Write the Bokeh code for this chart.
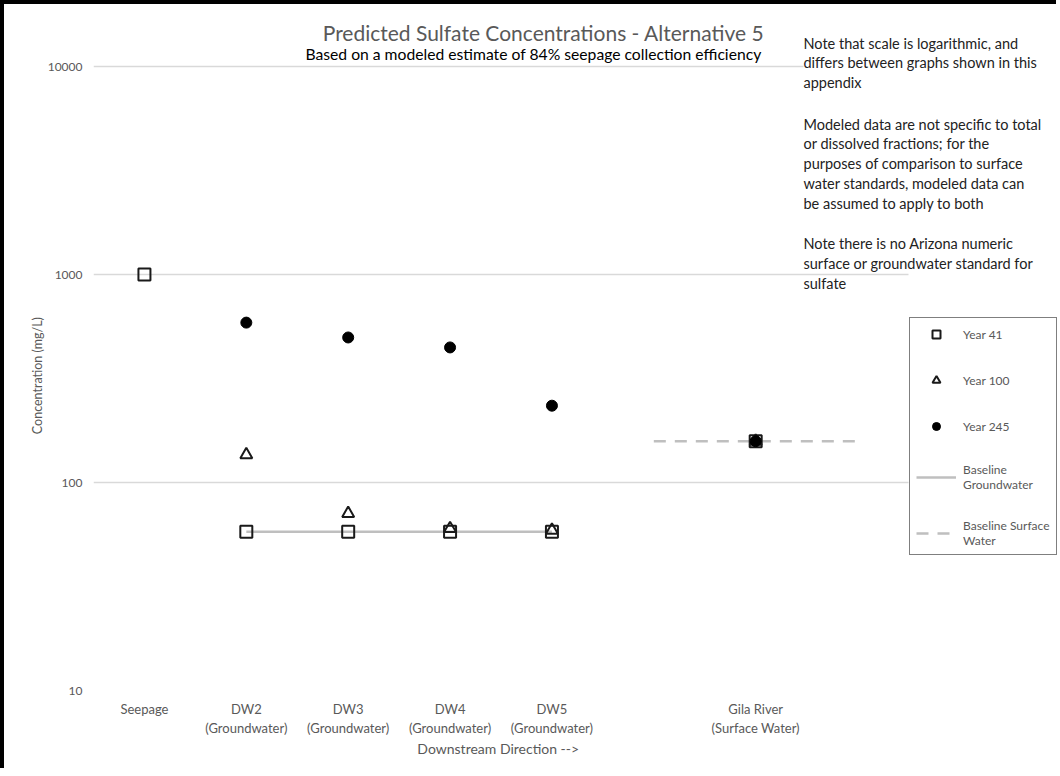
from bokeh.plotting import figure
from bokeh.models import Range1d, FixedTicker, Legend, LegendItem, Label, BoxAnnotation
from bokeh.embed import file_html
from bokeh.resources import INLINE

# ---------------- data ----------------
categories = ["Seepage", "DW2\n(Groundwater)", "DW3\n(Groundwater)", "DW4\n(Groundwater)",
              "DW5\n(Groundwater)", "", "Gila River\n(Surface Water)", ""]
year_41 = [1000, 58, 58, 58, 58, None, 158, None]
year_100 = [None, 136, 71, 60, 59, None, 158, None]
year_245 = [None, 587, 498, 446, 234, None, 158, None]
baseline_groundwater = [None, 58, 58, 58, 58, None, None, None]
baseline_surface_water = [None, None, None, None, None, 158, 158, 158]
y_ticks = [10, 100, 1000, 10000]
labelled_x = [0, 1, 2, 3, 4, 6]

title_text = "Predicted Sulfate Concentrations - Alternative 5"
subtitle_text = "Based on a modeled estimate of 84% seepage collection efficiency"
x_title = "Downstream Direction -->"
y_title = "Concentration (mg/L)"
note_1 = "Note that scale is logarithmic, and\ndiffers between graphs shown in this\nappendix"
note_2 = ("Modeled data are not specific to total\nor dissolved fractions; for the\n"
          "purposes of comparison to surface\nwater standards, modeled data can\n"
          "be assumed to apply to both\n\nNote there is no Arizona numeric\n"
          "surface or groundwater standard for\nsulfate")

FONT = "Lato"
GREY = "#595959"
EM = "\u2003"   # em space, used to shift the axis titles off the frame centre


def pts(vals):
    xs = [i for i, v in enumerate(vals) if v is not None]
    ys = [v for v in vals if v is not None]
    return xs, ys


# ---- layout geometry (page pixels) ----
BORDER = 4
W, H = 1056, 768                     # canvas size (border drawn outside)
PLOT_L, PLOT_R, PLOT_T, PLOT_B = 93, 908, 66, 690      # the chart's plot area
N_CAT = len(categories)
px_per_cat = (PLOT_R - PLOT_L) / N_CAT
px_per_dec = (PLOT_B - PLOT_T) / 3.0


def x_at(px):
    return -0.5 + (px - PLOT_L) / px_per_cat


def y_at(py):
    return 10 ** (1 + (PLOT_B - py) / px_per_dec)


p = figure(width=W, height=H, y_axis_type="log",
           x_range=Range1d(-0.5, x_at(BORDER + W)), y_range=Range1d(10, y_at(BORDER)),
           output_backend="svg", toolbar_location=None, title=None,
           min_border_left=PLOT_L - BORDER, min_border_right=0, min_border_top=0,
           min_border_bottom=BORDER + H - PLOT_B)
p.styles = {"border-top": "4px solid black", "border-left": "4px solid black"}
p.outline_line_color = None
p.background_fill_color = "white"
p.border_fill_color = "white"

# axes
p.xaxis.ticker = FixedTicker(ticks=labelled_x)
p.xaxis.major_label_overrides = {i: categories[i] for i in labelled_x}
p.xaxis.axis_label = x_title + EM * 15
p.yaxis.ticker = FixedTicker(ticks=y_ticks)
p.yaxis.major_label_overrides = {t: str(t) for t in y_ticks}
p.yaxis.axis_label = y_title + EM * 6
for ax in (p.xaxis, p.yaxis):
    ax.axis_line_color = None
    ax.major_tick_line_color = None
    ax.minor_tick_line_color = None
    ax.major_tick_out = 0
    ax.major_label_text_font = FONT
    ax.major_label_text_color = GREY
    ax.axis_label_text_font = FONT
    ax.axis_label_text_color = GREY
    ax.axis_label_text_font_style = "normal"
p.xaxis.major_label_text_font_size = "13px"
p.yaxis.major_label_text_font_size = "12px"
p.xaxis.axis_label_text_font_size = "14px"
p.yaxis.axis_label_text_font_size = "12.5px"
p.xaxis.major_label_standoff = 10
p.yaxis.major_label_standoff = 11
p.xaxis.axis_label_standoff = 1
p.yaxis.axis_label_standoff = 0

p.xgrid.visible = False
p.ygrid.ticker = FixedTicker(ticks=y_ticks)
p.ygrid.grid_line_color = "#d9d9d9"
p.ygrid.grid_line_width = 1.5

# baselines
gx, gy = pts(baseline_groundwater)
r_bg = p.line(gx, gy, line_color="#bfbfbf", line_width=2.5)
sx, sy = pts(baseline_surface_water)
r_bs = p.line(sx, sy, line_color="#bfbfbf", line_width=2.5, line_dash="12 9")

# markers
x41, y41 = pts(year_41)
r41 = p.scatter(x41, y41, marker="square", size=12, fill_color=None,
                line_color="#1a1a1a", line_width=2)
x100, y100 = pts(year_100)
r100 = p.scatter(x100, y100, marker="triangle", size=12, fill_color="white", fill_alpha=0,
                 line_color="#1a1a1a", line_width=2)
x245, y245 = pts(year_245)
r245 = p.scatter(x245, y245, marker="circle", size=11, fill_color="black", line_color="black")

# blank area right of the plot area (hides gridlines there)
p.add_layout(BoxAnnotation(left=x_at(PLOT_R), fill_color="white", fill_alpha=1,
                           line_color=None))

# titles
p.add_layout(Label(x=x_at(543), y=y_at(32), text=title_text, text_align="center",
                   text_baseline="middle", text_font=FONT, text_font_size="21px",
                   text_color=GREY))
p.add_layout(Label(x=x_at(533), y=y_at(53), text=subtitle_text, text_align="center",
                   text_baseline="middle", text_font=FONT, text_font_size="15.7px",
                   text_color="black"))

# notes
NOTE_SIZE = "14.5px"
NOTE_LH = 1.17
p.add_layout(Label(x=x_at(803), y=y_at(34), text=note_1, text_align="left",
                   text_baseline="top", text_font=FONT, text_font_size=NOTE_SIZE,
                   text_color="#222222", text_line_height=NOTE_LH,
                   background_fill_color="white"))
p.add_layout(Label(x=x_at(803), y=y_at(115), text=note_2, text_align="left",
                   text_baseline="top", text_font=FONT, text_font_size=NOTE_SIZE,
                   text_color="#222222", text_line_height=NOTE_LH))

# legend
legend = Legend(items=[
    LegendItem(label="Year 41", renderers=[r41]),
    LegendItem(label="Year 100", renderers=[r100]),
    LegendItem(label="Year 245", renderers=[r245]),
    LegendItem(label="Baseline\nGroundwater", renderers=[r_bg]),
    LegendItem(label="Baseline Surface\nWater", renderers=[r_bs]),
], location=(PLOT_R - PLOT_L + 1, PLOT_B - 555))
legend.border_line_color = "black"
legend.border_line_width = 1.5
legend.background_fill_color = "white"
legend.background_fill_alpha = 1
legend.label_text_font = FONT
legend.label_text_font_size = "12px"
legend.label_text_color = GREY
legend.label_text_line_height = 1.1
legend.glyph_width = 40
legend.glyph_height = 20
legend.label_height = 20
legend.spacing = 26
legend.padding = 6
legend.margin = 0
legend.label_standoff = 7
p.add_layout(legend)

open("out.html", "w").write(file_html(p, INLINE))
